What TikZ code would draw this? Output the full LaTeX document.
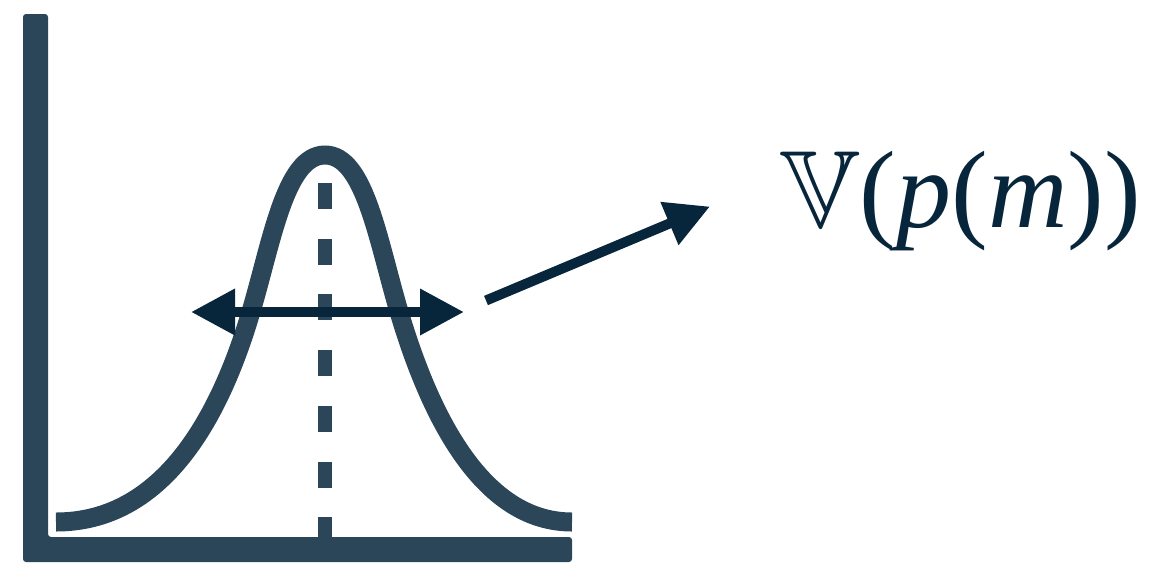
\documentclass[tikz,border=0pt]{standalone}
\usepackage{fontspec}
\setmainfont{Liberation Serif}
\usepackage{amssymb}
\usetikzlibrary{arrows.meta}
\definecolor{axisblue}{HTML}{2B4559}
\definecolor{arrowblue}{HTML}{07263C}
\tikzset{
  axisshape/.style={fill=axisblue, rounded corners=1.5pt},
  bellcurve/.style={draw=axisblue, line width=9.5pt, line cap=butt},
  meanline/.style={draw=axisblue, line width=7pt, dash pattern=on 13pt off 14.85pt},
  spreadarrow/.style={draw=arrowblue, line width=5pt, {Triangle[length=22pt,width=22pt]}-{Triangle[length=22pt,width=22pt]}},
  pointarrow/.style={draw=arrowblue, line width=5pt, -{Triangle[length=22pt,width=22pt]}},
  labeltext/.style={text=arrowblue, inner sep=0pt, anchor=base west, font=\fontsize{55}{60}\selectfont}
}
\begin{document}
\begin{tikzpicture}[x=0.5pt,y=-0.5pt]
\useasboundingbox (0,0) rectangle (1151,563);
% axes
\fill[axisshape] (23,14) -- (48,14) -- (48,537) -- (572,537) -- (572,562) -- (23,562) -- cycle;
% mean line
\coordinate (mtop) at (325,183);
\coordinate (mbot) at (325,537);
\draw[meanline] (mtop) -- (mbot);
% bell curve
\coordinate (cl) at (56,522);
\coordinate (il) at (250,315);
\coordinate (pk) at (325,155);
\coordinate (ir) at (400,315);
\coordinate (cr) at (572,522);
\draw[bellcurve] (cl) .. controls (146,522) and (210,448.2) .. (il)
  .. controls (272,241.7) and (285,155) .. (pk)
  .. controls (365,155) and (378,241.7) .. (ir)
  .. controls (440,448.2) and (497,522) .. (cr);
% spread arrow
\coordinate (sl) at (191,312);
\coordinate (sr) at (464,312);
\draw[spreadarrow] (sl) -- (sr);
% label
\node[labeltext] (lbl) at (780,227) {$\mathbb{V}$(\textit{p}(\textit{m}))};
% pointer arrow
\coordinate (ps) at (486,300.5);
\coordinate (pt) at (710,206.5);
\draw[pointarrow] (ps) -- (pt);
\end{tikzpicture}
\end{document}
